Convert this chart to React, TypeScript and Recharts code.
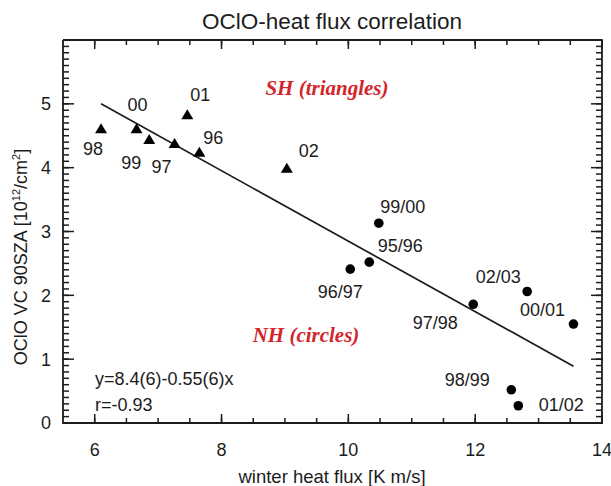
import { ScatterChart, Scatter, XAxis, YAxis, ReferenceLine } from 'recharts'

// SH winters (triangles)
const shYears = ['98', '00', '99', '97', '01', '96', '02']
const shFlux = [6.1, 6.66, 6.86, 7.26, 7.46, 7.65, 9.03]
const shOclo = [4.61, 4.61, 4.44, 4.38, 4.83, 4.24, 3.99]

// NH winters (circles)
const nhWinters = ['99/00', '95/96', '96/97', '97/98', '02/03', '00/01', '98/99', '01/02']
const nhFlux = [10.48, 10.33, 10.03, 11.97, 12.82, 13.55, 12.57, 12.68]
const nhOclo = [3.13, 2.52, 2.41, 1.86, 2.06, 1.55, 0.52, 0.27]

// fitted line end points
const fitFlux = [6.1, 13.55]
const fitOclo = [5.0, 0.89]

const xMajor = [6, 8, 10, 12, 14]
const xMinor = [6, 6.5, 7, 7.5, 8, 8.5, 9, 9.5, 10, 10.5, 11, 11.5, 12, 12.5, 13, 13.5, 14]
const yMajor = [0, 1, 2, 3, 4, 5]
const yMinor = Array.from({ length: 61 }, (_, i) => i / 10)

const shPoints = shYears.map((name, i) => ({ name, flux: shFlux[i], oclo: shOclo[i] }))
const nhPoints = nhWinters.map((name, i) => ({ name, flux: nhFlux[i], oclo: nhOclo[i] }))
const fitSegment = fitFlux.map((x, i) => ({ x, y: fitOclo[i] }))

const INK = '#1c1c1c'
const RED = '#d3252b'
const SANS = '"Liberation Sans", Arial, sans-serif'
const SERIF = '"Liberation Serif", "Times New Roman", serif'

const X_DOMAIN: [number, number] = [5.5, 14]
const Y_DOMAIN: [number, number] = [0, 6]
const tickLine = { stroke: INK, strokeWidth: 1.5 }
const axisLine = { stroke: INK, strokeWidth: 1.8 }
const tickText = { fontSize: 18, fontFamily: SANS, fill: INK }
const hiddenText = { fontSize: 1, fill: 'transparent' }
const noLabel = () => ''

// where each year label sits relative to its marker (px)
const labelOffset: Record<string, [number, number]> = {
  '98': [-8, 20],
  '00': [1, -24],
  '99': [-18, 23],
  '97': [-13, 23],
  '01': [13, -20],
  '96': [14, -15],
  '02': [22, -18],
  '99/00': [24, -17],
  '95/96': [31, -17],
  '96/97': [-10, 22],
  '97/98': [-38, 18],
  '02/03': [-29, -15],
  '00/01': [-31, -15],
  '98/99': [-44, -10],
  '01/02': [43, -1],
}

function YearLabel({ cx, cy, name }: { cx: number; cy: number; name: string }) {
  const [dx, dy] = labelOffset[name] || [0, 0]
  return (
    <text x={cx + dx} y={cy + dy + 6.5} textAnchor="middle" fontSize={18} fontFamily={SANS} fill={INK}>
      {name}
    </text>
  )
}

function Triangle(props: any) {
  const { cx, cy, payload } = props
  return (
    <g>
      <path d={`M${cx},${cy - 5.5}L${cx + 6},${cy + 4.5}L${cx - 6},${cy + 4.5}Z`} fill="#000" />
      <YearLabel cx={cx} cy={cy} name={payload.name} />
    </g>
  )
}

function Dot(props: any) {
  const { cx, cy, payload } = props
  return (
    <g>
      <circle cx={cx} cy={cy} r={4.8} fill="#000" />
      <YearLabel cx={cx} cy={cy} name={payload.name} />
    </g>
  )
}

// the extra frame axes only get ticks when a series is bound to them
const NoMark = () => <g />

export default function App() {
  // thin minor-tick axes come first so they sit on the frame and draw it;
  // the labelled major axes stack just outside them
  const common = { type: 'number' as const, allowDataOverflow: true, interval: 0 as const }
  return (
    <div style={{ position: 'absolute', left: 0, top: 0, width: 611, height: 486, background: '#fff' }}>
      <ScatterChart width={611} height={486} margin={{ top: 34, right: 7, bottom: 22, left: 12 }}>
        <XAxis {...common} xAxisId="bMinor" dataKey="flux" domain={X_DOMAIN} ticks={xMinor} height={1}
          tickSize={-5} tickLine={tickLine} tick={hiddenText} tickFormatter={noLabel} axisLine={axisLine} />
        <XAxis {...common} xAxisId="tMinor" orientation="top" dataKey="flux" domain={X_DOMAIN} ticks={xMinor} height={1}
          tickSize={-5} tickLine={tickLine} tick={hiddenText} tickFormatter={noLabel} axisLine={axisLine} />
        <YAxis {...common} yAxisId="lMinor" dataKey="oclo" domain={Y_DOMAIN} ticks={yMinor} width={1}
          tickSize={-6} tickLine={tickLine} tick={hiddenText} tickFormatter={noLabel} axisLine={axisLine} />
        <YAxis {...common} yAxisId="rMinor" orientation="right" dataKey="oclo" domain={Y_DOMAIN} ticks={yMinor} width={1}
          tickSize={-6} tickLine={tickLine} tick={hiddenText} tickFormatter={noLabel} axisLine={axisLine} />

        <XAxis {...common} xAxisId="bottom" dataKey="flux" domain={X_DOMAIN} ticks={xMajor} height={40}
          tickSize={-10} tickMargin={29.5} tickLine={tickLine} tick={tickText} axisLine={false} />
        <XAxis {...common} xAxisId="top" orientation="top" dataKey="flux" domain={X_DOMAIN} ticks={xMajor} height={5}
          tickSize={-10} tickLine={tickLine} tick={hiddenText} tickFormatter={noLabel} axisLine={false} />
        <YAxis {...common} yAxisId="left" dataKey="oclo" domain={Y_DOMAIN} ticks={yMajor} width={50}
          tickSize={-12} tickMargin={23} tickLine={tickLine} tick={tickText} axisLine={false} />
        <YAxis {...common} yAxisId="right" orientation="right" dataKey="oclo" domain={Y_DOMAIN} ticks={yMajor} width={1}
          tickSize={-12} tickLine={tickLine} tick={hiddenText} tickFormatter={noLabel} axisLine={false} />

        <Scatter xAxisId="bMinor" yAxisId="lMinor" data={shPoints} shape={NoMark} isAnimationActive={false} />
        <Scatter xAxisId="tMinor" yAxisId="rMinor" data={shPoints} shape={NoMark} isAnimationActive={false} />
        <Scatter xAxisId="top" yAxisId="right" data={shPoints} shape={NoMark} isAnimationActive={false} />

        <ReferenceLine
          xAxisId="bottom"
          yAxisId="left"
          segment={fitSegment}
          stroke={INK}
          strokeWidth={1.7}
          ifOverflow="visible"
        />
        <Scatter
          xAxisId="bottom"
          yAxisId="left"
          data={shPoints}
          shape={Triangle}
          isAnimationActive={false}
        />
        <Scatter
          xAxisId="bottom"
          yAxisId="left"
          data={nhPoints}
          shape={Dot}
          isAnimationActive={false}
        />
      </ScatterChart>
      <svg
        width={611}
        height={486}
        style={{ position: 'absolute', left: 0, top: 0, pointerEvents: 'none' }}
      >
        <text x={332} y={29} textAnchor="middle" fontSize={22.5} fontFamily={SANS} fill={INK}>
          OClO-heat flux correlation
        </text>
        <text x={332} y={483} textAnchor="middle" fontSize={18.5} fontFamily={SANS} fill={INK}>
          winter heat flux [K m/s]
        </text>
        <text
          transform="translate(27,257) rotate(-90)"
          textAnchor="middle"
          fontSize={18}
          fontFamily={SANS}
          fill={INK}
        >
          OClO VC 90SZA [10
          <tspan dy={-7} fontSize={11}>12</tspan>
          <tspan dy={7}>/cm</tspan>
          <tspan dy={-7} fontSize={11}>2</tspan>
          <tspan dy={7}>]</tspan>
        </text>
        <text x={327} y={95} textAnchor="middle" fontSize={21} fontFamily={SERIF} fontStyle="italic" fontWeight="bold" fill={RED}>
          SH (triangles)
        </text>
        <text x={306} y={342} textAnchor="middle" fontSize={21} fontFamily={SERIF} fontStyle="italic" fontWeight="bold" fill={RED}>
          NH (circles)
        </text>
        <text x={95} y={385} fontSize={18} fontFamily={SANS} fill={INK}>
          y=8.4(6)-0.55(6)x
        </text>
        <text x={95} y={411} fontSize={18} fontFamily={SANS} fill={INK}>
          r=-0.93
        </text>
      </svg>
    </div>
  )
}
